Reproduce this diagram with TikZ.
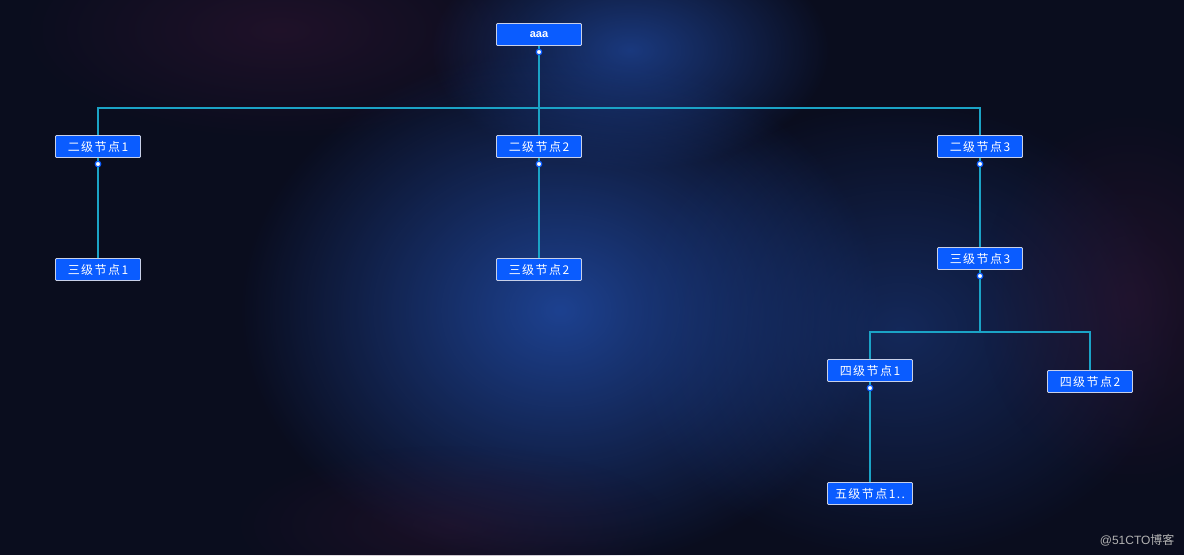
\documentclass[tikz,border=0pt]{standalone}
\usepackage{fontspec}
\newfontfamily\cjk[LetterSpace=12]{Noto Sans CJK SC}
\newfontfamily\cjkw{Noto Sans CJK SC}
\setsansfont{Liberation Sans}
\usetikzlibrary{fadings}
\tikzfading[name=glowfade, inner color=transparent!0, outer color=transparent!100]
\definecolor{bgc}{HTML}{0A0D1E}
\definecolor{boxc}{HTML}{0A5CFF}
\definecolor{boxb}{HTML}{C8D0E8}
\definecolor{linec}{HTML}{1BA3C6}
\definecolor{glow}{HTML}{1E4496}
\definecolor{glowp}{HTML}{351634}
\tikzset{
  tn/.style={draw=boxb, line width=0.9pt, fill=boxc, rounded corners=1pt,
    minimum width=85pt, minimum height=22pt, inner sep=0pt, text=white,
    font=\cjk\fontsize{12}{13}\selectfont},
  conn/.style={draw=linec, line width=1.1pt},
  dotc/.style={circle, fill=white, draw=boxc, line width=1.2pt, inner sep=0pt, minimum size=5.5pt},
  glowf/.style={path fading=glowfade, fit fading=true}
}
\begin{document}
\begin{tikzpicture}[x=1pt,y=-1pt]
\useasboundingbox (0,0) rectangle (1184,555);
\fill[bgc] (0,0) rectangle (1184,555);
\begin{scope}
\clip (0,0) rectangle (1184,555);
\fill[glowp, glowf, opacity=0.5] (280,30) ellipse (260 and 110);
\fill[glow, glowf, opacity=0.8] (630,50) ellipse (200 and 120);
\fill[glow, glowf, opacity=0.95] (560,310) ellipse (320 and 260);
\fill[glow, glowf, opacity=0.5] (900,330) ellipse (280 and 230);
\fill[glowp, glowf, opacity=0.5] (1130,300) ellipse (150 and 190);
\fill[glowp, glowf, opacity=0.4] (450,525) ellipse (220 and 80);
\end{scope}
% nodes
\node[tn, font=\sffamily\bfseries\fontsize{11}{12}\selectfont] (a) at (539,34.5) {aaa};
\node[tn] (b1) at (98,146.5) {二级节点1};
\node[tn] (b2) at (539,146.5) {二级节点2};
\node[tn] (b3) at (980,146.5) {二级节点3};
\node[tn] (c1) at (98,269.5) {三级节点1};
\node[tn] (c2) at (539,269.5) {三级节点2};
\node[tn] (c3) at (980,258.5) {三级节点3};
\node[tn] (d1) at (870,370.5) {四级节点1};
\node[tn] (d2) at (1090,381.5) {四级节点2};
\node[tn] (e1) at (870,493.5) {五级节点1..};
% junction coordinates
\coordinate (ja) at (539,108);
\coordinate (jc) at (980,332);
% connectors
\draw[conn] (a.south) -- (ja);
\draw[conn] (b1.north) |- (ja) -| (b3.north);
\draw[conn] (ja) -- (b2.north);
\draw[conn] (b1.south) -- (c1.north);
\draw[conn] (b2.south) -- (c2.north);
\draw[conn] (b3.south) -- (c3.north);
\draw[conn] (c3.south) -- (jc);
\draw[conn] (d1.north) |- (jc) -| (d2.north);
\draw[conn] (d1.south) -- (e1.north);
% dots
\node[dotc] (da) at (539,52) {};
\node[dotc] (db1) at (98,164) {};
\node[dotc] (db2) at (539,164) {};
\node[dotc] (db3) at (980,164) {};
\node[dotc] (dc3) at (980,276) {};
\node[dotc] (dd1) at (870,388) {};
% watermark
\node[text=gray!60, font=\sffamily\fontsize{12}{14}\selectfont, anchor=east] (wm) at (1178,540) {@51CTO{\cjkw 博客}};
\end{tikzpicture}
\end{document}
